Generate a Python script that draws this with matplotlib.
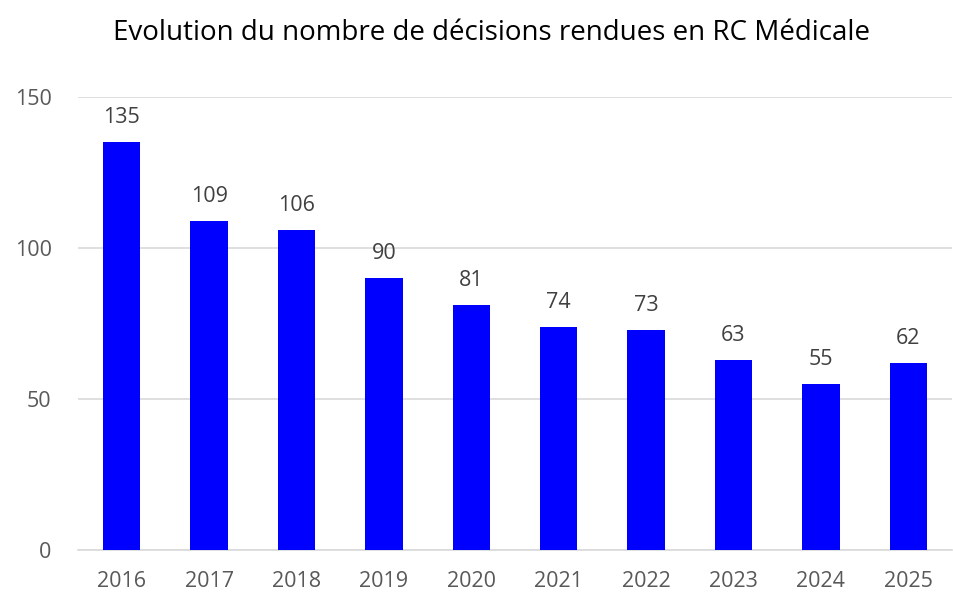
import matplotlib.pyplot as plt

# Data
years = ['2016', '2017', '2018', '2019', '2020', '2021', '2022', '2023', '2024', '2025']
decisions = [135, 109, 106, 90, 81, 74, 73, 63, 55, 62]
y_ticks = [0, 50, 100, 150]

plt.rcParams['font.family'] = ['Open Sans', 'DejaVu Sans']

fig = plt.figure(figsize=(9.54, 5.95), dpi=100)
ax = fig.add_axes([78 / 954, 45 / 595, (952 - 78) / 954, (550 - 97) / 595])

x = range(len(years))
bars = ax.bar(x, decisions, width=0.43, color='#0000FF', zorder=3)

for xi, v in zip(x, decisions):
    ax.annotate(str(v), (xi, v), xytext=(0, 10), textcoords='offset points',
                ha='center', va='bottom', fontsize=15.5, color='#404040')

ax.set_xlim(-0.5, len(years) - 0.5)
ax.set_ylim(0, 150)
ax.set_yticks(y_ticks)
ax.set_xticks(list(x))
ax.set_xticklabels(years)
ax.yaxis.grid(True, color='#D9D9D9', linewidth=1.2, zorder=0)
ax.tick_params(axis='both', length=0, labelsize=15.5, colors='#595959')
ax.tick_params(axis='x', pad=15)
ax.tick_params(axis='y', pad=19)
for s in ['top', 'right', 'left']:
    ax.spines[s].set_visible(False)
ax.spines['bottom'].set_color('#D9D9D9')
ax.spines['bottom'].set_linewidth(1.2)

fig.text(0.515, 0.945, 'Evolution du nombre de décisions rendues en RC Médicale',
         ha='center', va='center', fontsize=20, color='black')

fig.savefig('out.png', dpi=100)
